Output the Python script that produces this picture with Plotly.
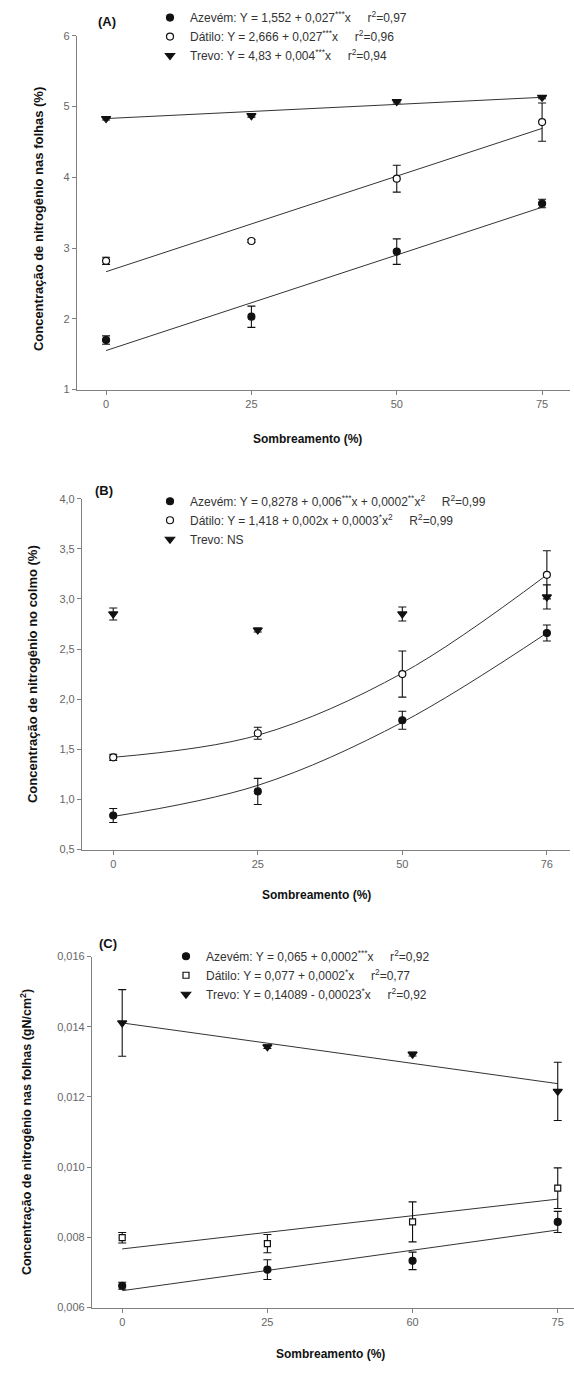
import plotly.graph_objects as go

W, H = 574, 1373

# ---------------- data ----------------
x_levels = [0, 25, 50, 75]

# Panel A - N in leaves (%)
A_az = [1.70, 2.03, 2.95, 3.63]
A_az_err = [0.06, 0.15, 0.18, 0.06]
A_da = [2.82, 3.10, 3.98, 4.78]
A_da_err = [0.05, 0.02, 0.19, 0.27]
A_tr = [4.83, 4.87, 5.07, 5.13]
A_tr_err = [0.02, 0.02, 0.02, 0.02]
A_fit_x = [0, 75]
A_fit_az = [1.552, 3.577]
A_fit_da = [2.666, 4.691]
A_fit_tr = [4.83, 5.13]

# Panel B - N in stem (%)
B_az = [0.84, 1.08, 1.79, 2.66]
B_az_err = [0.07, 0.13, 0.09, 0.08]
B_da = [1.42, 1.66, 2.25, 3.24]
B_da_err = [0.03, 0.06, 0.23, 0.24]
B_tr = [2.85, 2.69, 2.85, 3.02]
B_tr_err = [0.06, 0.02, 0.07, 0.12]
B_fit_az = [0.83, 1.14, 1.77, 2.66]
B_fit_da = [1.42, 1.64, 2.26, 3.24]

# Panel C - N in leaves (gN/cm2)
C_az = [0.00662, 0.00708, 0.00733, 0.00844]
C_az_err = [0.00010, 0.00028, 0.00025, 0.00030]
C_da = [0.00799, 0.00782, 0.00844, 0.00940]
C_da_err = [0.00015, 0.00026, 0.00057, 0.00058]
C_tr = [0.01411, 0.01343, 0.01322, 0.01216]
C_tr_err = [0.00095, 0.00005, 0.00005, 0.00083]
C_fit_x = [0, 75]
C_fit_az = [0.00648, 0.00821]
C_fit_da = [0.00767, 0.00909]
C_fit_tr = [0.01411, 0.01238]

xtick_A = ["0", "25", "50", "75"]
xtick_B = ["0", "25", "50", "76"]
xtick_C = ["0", "25", "60", "75"]

ytick_A_vals = [1, 2, 3, 4, 5, 6]
ytick_A_text = ["1", "2", "3", "4", "5", "6"]
ytick_B_vals = [0.5, 1.0, 1.5, 2.0, 2.5, 3.0, 3.5, 4.0]
ytick_B_text = ["0,5", "1,0", "1,5", "2,0", "2,5", "3,0", "3,5", "4,0"]
ytick_C_vals = [0.006, 0.008, 0.010, 0.012, 0.014, 0.016]
ytick_C_text = ["0,006", "0,008", "0,010", "0,012", "0,014", "0,016"]

NB = "\u00a0"
leg_A = [
    "Azevém: Y = 1,552 + 0,027<sup>***</sup>x" + NB * 5 + "r<sup>2</sup>=0,97",
    "Dátilo: Y = 2,666 + 0,027<sup>***</sup>x" + NB * 5 + "r<sup>2</sup>=0,96",
    "Trevo: Y = 4,83 + 0,004<sup>***</sup>x" + NB * 5 + "r<sup>2</sup>=0,94",
]
leg_B = [
    "Azevém: Y = 0,8278 + 0,006<sup>***</sup>x + 0,0002<sup>**</sup>x<sup>2</sup>" + NB * 5 + "R<sup>2</sup>=0,99",
    "Dátilo: Y = 1,418 + 0,002x + 0,0003<sup>*</sup>x<sup>2</sup>" + NB * 5 + "R<sup>2</sup>=0,99",
    "Trevo: NS",
]
leg_C = [
    "Azevém: Y = 0,065 + 0,0002<sup>***</sup>x" + NB * 5 + "r<sup>2</sup>=0,92",
    "Dátilo: Y = 0,077 + 0,0002<sup>*</sup>x" + NB * 5 + "r<sup>2</sup>=0,77",
    "Trevo: Y = 0,14089 - 0,00023<sup>*</sup>x" + NB * 5 + "r<sup>2</sup>=0,92",
]

FONT = "Arial, Liberation Sans, sans-serif"
INK = "#111111"
GREY = "#666666"
AXC = "#808080"


def fx(px):
    return px / W


def fy(py):
    return 1 - py / H


fig = go.Figure()


def add_points(x, y, err, symbol, name, xa, ya, legend, size=8, fill=INK):
    fig.add_trace(go.Scatter(
        x=x, y=y, mode="markers", name=name,
        marker=dict(symbol=symbol, size=size, color=fill,
                    line=dict(color=INK, width=1.2)),
        error_y=dict(type="data", array=err, color=INK, thickness=1.1, width=4),
        xaxis=xa, yaxis=ya, legend=legend, showlegend=True,
    ))


def add_fit(x, y, xa, ya, shape="linear"):
    fig.add_trace(go.Scatter(
        x=x, y=y, mode="lines", line=dict(color="#333333", width=1, shape=shape),
        xaxis=xa, yaxis=ya, showlegend=False, hoverinfo="skip",
    ))


# Panel A
add_fit(A_fit_x, A_fit_az, "x", "y")
add_fit(A_fit_x, A_fit_da, "x", "y")
add_fit(A_fit_x, A_fit_tr, "x", "y")
add_points(x_levels, A_az, A_az_err, "circle", leg_A[0], "x", "y", "legend", 7)
add_points(x_levels, A_da, A_da_err, "circle", leg_A[1], "x", "y", "legend", 7, "white")
add_points(x_levels, A_tr, A_tr_err, "triangle-down", leg_A[2], "x", "y", "legend", 8)

# Panel B
add_fit(x_levels, B_fit_az, "x2", "y2", "spline")
add_fit(x_levels, B_fit_da, "x2", "y2", "spline")
add_points(x_levels, B_az, B_az_err, "circle", leg_B[0], "x2", "y2", "legend2", 7)
add_points(x_levels, B_da, B_da_err, "circle", leg_B[1], "x2", "y2", "legend2", 7, "white")
add_points(x_levels, B_tr, B_tr_err, "triangle-down", leg_B[2], "x2", "y2", "legend2", 8)

# Panel C
add_fit(C_fit_x, C_fit_az, "x3", "y3")
add_fit(C_fit_x, C_fit_da, "x3", "y3")
add_fit(C_fit_x, C_fit_tr, "x3", "y3")
add_points(x_levels, C_az, C_az_err, "circle", leg_C[0], "x3", "y3", "legend3", 7)
add_points(x_levels, C_da, C_da_err, "square", leg_C[1], "x3", "y3", "legend3", 6, "white")
add_points(x_levels, C_tr, C_tr_err, "triangle-down", leg_C[2], "x3", "y3", "legend3", 8)

tickfont = dict(family=FONT, size=11, color=GREY)


def xaxis(dom, rng, labels, anchor):
    return dict(domain=dom, range=rng, tickvals=x_levels, ticktext=labels,
                showline=True, linecolor=AXC, linewidth=1.2, ticks="outside",
                ticklen=4, tickcolor=AXC, showgrid=False, zeroline=False,
                tickfont=tickfont, anchor=anchor, fixedrange=True)


def yaxis(dom, rng, vals, labels, anchor):
    return dict(domain=dom, range=rng, tickvals=vals, ticktext=labels,
                showline=True, linecolor=AXC, linewidth=1.2, ticks="outside",
                ticklen=4, tickcolor=AXC, showgrid=False, zeroline=False,
                tickfont=tickfont, anchor=anchor, fixedrange=True)


legend_common = dict(font=dict(family=FONT, size=12, color="#333333"),
                     bgcolor="rgba(0,0,0,0)", borderwidth=0, tracegroupgap=0,
                     xanchor="left", yanchor="top", itemclick=False)

fig.update_layout(
    width=W, height=H, margin=dict(l=0, r=0, t=0, b=0),
    paper_bgcolor="white", plot_bgcolor="white",
    font=dict(family=FONT, color=INK),
    xaxis=xaxis([fx(77), fx(570)], [-5, 79.8], xtick_A, "y"),
    yaxis=yaxis([fy(387), fy(30)], [1, 6], ytick_A_vals, ytick_A_text, "x"),
    xaxis2=xaxis([fx(82), fx(570)], [-5.4, 79], xtick_B, "y2"),
    yaxis2=yaxis([fy(851), fy(497)], [0.5, 4.0], ytick_B_vals, ytick_B_text, "x2"),
    xaxis3=xaxis([fx(92), 1.0], [-5.2, 77.8], xtick_C, "y3"),
    yaxis3=yaxis([fy(1313), fy(959)], [0.006, 0.016], ytick_C_vals, ytick_C_text, "x3"),
    legend=dict(x=fx(150), y=fy(-3), **legend_common),
    legend2=dict(x=fx(150), y=fy(485), **legend_common),
    legend3=dict(x=fx(166), y=fy(944), **legend_common),
)

ann = []
for txt, px, py in [("(A)", 107, 16), ("(B)", 104, 489), ("(C)", 108, 946)]:
    ann.append(dict(text="<b>" + txt + "</b>", x=fx(px), y=fy(py), xref="paper", yref="paper",
                    xanchor="center", yanchor="middle",
                    showarrow=False, font=dict(family=FONT, size=13, color=INK)))
for px, py in [(307, 437), (316, 897), (330, 1360)]:
    ann.append(dict(text="<b>Sombreamento (%)</b>", x=fx(px), y=fy(py), xref="paper", yref="paper",
                    xanchor="center", yanchor="middle",
                    showarrow=False, font=dict(family=FONT, size=12, color=INK)))
for txt, px, py, fs in [("Concentração de nitrogênio nas folhas (%)", 38, 215, 13),
                        ("Concentração de nitrogênio no colmo (%)", 32, 674, 13),
                        ("Concentração de nitrogênio nas folhas (gN/cm<sup>2</sup>)", 26, 1136, 12.5)]:
    ann.append(dict(text="<b>" + txt + "</b>", x=fx(px), y=fy(py), xref="paper", yref="paper",
                    xanchor="center", yanchor="middle",
                    showarrow=False, textangle=-90, font=dict(family=FONT, size=fs, color=INK)))
fig.update_layout(annotations=ann)

fig.write_html("out.html")
